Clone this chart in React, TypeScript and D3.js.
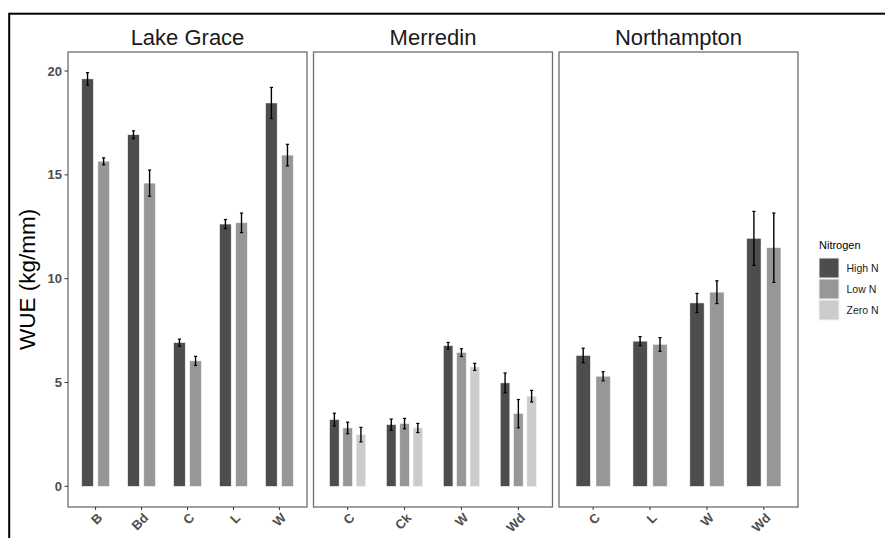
import React from 'react';
import * as d3 from 'd3';

const nitrogenLevels = ['High N', 'Low N', 'Zero N'];
const nitrogenColours = ['#4d4d4d', '#979797', '#cccccc'];

const siteNames = ['Lake Grace', 'Merredin', 'Northampton'];

const lakeGraceCrops = ['B', 'Bd', 'C', 'L', 'W'];
const lakeGraceHigh = [19.62, 16.93, 6.92, 12.63, 18.46];
const lakeGraceHighSe = [0.30, 0.19, 0.17, 0.22, 0.75];
const lakeGraceLow = [15.65, 14.6, 6.04, 12.69, 15.95];
const lakeGraceLowSe = [0.17, 0.63, 0.22, 0.47, 0.52];

const merredinCrops = ['C', 'Ck', 'W', 'Wd'];
const merredinHigh = [3.21, 2.97, 6.77, 4.98];
const merredinHighSe = [0.31, 0.27, 0.16, 0.48];
const merredinLow = [2.81, 3.02, 6.44, 3.5];
const merredinLowSe = [0.28, 0.25, 0.19, 0.68];
const merredinZero = [2.49, 2.81, 5.75, 4.34];
const merredinZeroSe = [0.35, 0.22, 0.17, 0.28];

const northamptonCrops = ['C', 'L', 'W', 'Wd'];
const northamptonHigh = [6.3, 6.99, 8.83, 11.94];
const northamptonHighSe = [0.35, 0.22, 0.46, 1.3];
const northamptonLow = [5.3, 6.83, 9.35, 11.49];
const northamptonLowSe = [0.22, 0.33, 0.55, 1.67];

const yTicks = [0, 5, 10, 15, 20];

// one panel per site; series are [level, means, se]
const panels = [
  { crops: lakeGraceCrops, series: [[0, lakeGraceHigh, lakeGraceHighSe], [1, lakeGraceLow, lakeGraceLowSe]] },
  { crops: merredinCrops, series: [[0, merredinHigh, merredinHighSe], [1, merredinLow, merredinLowSe], [2, merredinZero, merredinZeroSe]] },
  { crops: northamptonCrops, series: [[0, northamptonHigh, northamptonHighSe], [1, northamptonLow, northamptonLowSe]] },
] as { crops: string[]; series: [number, number[], number[]][] }[];

const W = 885, H = 538;
const panelTop = 52, panelBottom = 507;
const panelLeft = 68, panelW = 239, panelGap = 6.5;
const font = '"Liberation Sans", Arial, sans-serif';

export default function App() {
  let maxY = 0;
  panels.forEach(p => p.series.forEach(s => s[1].forEach((v, i) => { maxY = Math.max(maxY, v + s[2][i]); })));
  const pad = maxY * 0.05;
  const y = d3.scaleLinear().domain([-pad, maxY + pad]).range([panelBottom, panelTop]);

  return (
    <svg width={W} height={H} style={{ position: 'absolute', left: 0, top: 0, background: '#fff' }} fontFamily={font}>
      <rect x={9.2} y={13.7} width={950} height={620} fill="none" stroke="#000" strokeWidth={2} />

      {panels.map((p, pi) => {
        const x0 = panelLeft + pi * (panelW + panelGap);
        const x = d3.scalePoint<string>().domain(p.crops).range([x0, x0 + panelW]).padding(0.6);
        const step = x.step();
        const n = p.series.length;
        const dodge = d3.scaleBand<number>().domain(d3.range(n)).range([-0.35 * step, 0.35 * step]);
        const barW = dodge.bandwidth() * 5 / 7;
        return (
          <g key={pi}>
            <text x={x0 + panelW / 2} y={44.5} textAnchor="middle" fontSize={22} fill="#1a1a1a">{siteNames[pi]}</text>
            {p.series.map(([lvl, vals, se], si) => (
              <g key={si}>
                {vals.map((v, i) => {
                  const cx = (x(p.crops[i]) as number) + (dodge(si) as number) + dodge.bandwidth() / 2;
                  return (
                    <g key={i}>
                      <rect x={cx - barW / 2} y={y(v)} width={barW} height={y(0) - y(v)}
                        fill={nitrogenColours[lvl]} stroke="#f2f2f2" strokeWidth={0.5} />
                      <line x1={cx} x2={cx} y1={y(v + se[i])} y2={y(v - se[i])} stroke="#000" strokeWidth={1.4} />
                      <line x1={cx - 1.6} x2={cx + 1.6} y1={y(v + se[i])} y2={y(v + se[i])} stroke="#000" strokeWidth={1.2} />
                      <line x1={cx - 1.6} x2={cx + 1.6} y1={y(v - se[i])} y2={y(v - se[i])} stroke="#000" strokeWidth={1.2} />
                    </g>
                  );
                })}
              </g>
            ))}
            <rect x={x0} y={panelTop} width={panelW} height={panelBottom - panelTop} fill="none" stroke="#6e6e6e" strokeWidth={1.3} />
            {p.crops.map(c => (
              <g key={c}>
                <line x1={x(c)} x2={x(c)} y1={panelBottom} y2={panelBottom + 3} stroke="#333" strokeWidth={1} />
                <text transform={`translate(${(x(c) as number) + 1},${panelBottom + 5}) rotate(-45)`} textAnchor="end" dy="0.72em"
                  fontSize={13} fontWeight="bold" fill="#4d4d4d">{c}</text>
              </g>
            ))}
          </g>
        );
      })}

      {yTicks.map(t => (
        <g key={t}>
          <line x1={panelLeft - 3.5} x2={panelLeft} y1={y(t)} y2={y(t)} stroke="#333" strokeWidth={1} />
          <text x={panelLeft - 6} y={y(t)} dy="0.35em" textAnchor="end" fontSize={13} fontWeight="bold" fill="#4d4d4d">{t}</text>
        </g>
      ))}

      <text transform={`translate(35,${(panelTop + panelBottom) / 2}) rotate(-90)`} textAnchor="middle" fontSize={22.5} fill="#000">WUE (kg/mm)</text>

      <g>
        <text x={819} y={248.5} fontSize={11} fill="#000">Nitrogen</text>
        {nitrogenLevels.map((lv, i) => (
          <g key={lv}>
            <rect x={819} y={258 + i * 21} width={20} height={20} fill={nitrogenColours[i]} stroke="#f2f2f2" strokeWidth={1} />
            <text x={846.5} y={268 + i * 21} dy="0.35em" fontSize={10.5} fill="#1a1a1a">{lv}</text>
          </g>
        ))}
      </g>
    </svg>
  );
}
